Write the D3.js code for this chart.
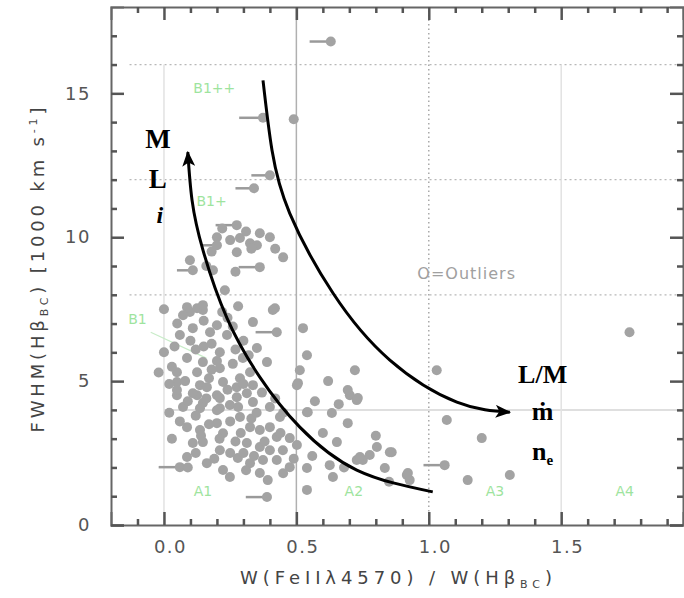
<!DOCTYPE html>
<html>
<head>
<meta charset="utf-8">
<script src="https://cdn.jsdelivr.net/npm/d3@7"></script>
<style>
  html, body { margin: 0; padding: 0; background: #fff; }
  svg { display: block; }
</style>
</head>
<body>
<svg id="chart" width="684" height="598"></svg>
<script>
// ---------------- DATA ----------------
// Ratio W(FeII 4570)/W(Hbeta BC) and FWHM(Hbeta BC) [1000 km/s]
const ratio = [
  0.275,0.362,0.2,0.287,0.325,0.2,0.351,0.275,0.362,0.098,0.109,0.185,0.23,0.419,0.087,0.147,0.411,0.336,0.426,0.525,
  0.098,0.072,0.125,0.147,0.109,0.174,0.238,0.2,0.211,0.087,0.147,0.049,0.125,0.211,0.298,0.351,0.389,0.325,0.049,0.136,
  0.223,0.287,0.336,0.049,0.125,0.2,0.275,0.336,0.136,0.211,0.54,0.506,0.049,0.109,0.162,0.211,0.275,0.313,0.502,0.702,
  0.728,0.072,0.147,0.2,0.249,0.287,0.438,0.54,0.634,0.694,0.087,0.136,0.2,0.223,0.325,0.362,0.426,0.475,0.502,0.653,
  0.109,0.147,0.211,0.313,0.362,0.4,0.449,0.728,0.804,0.86,0.751,0.087,0.06,0.162,0.223,0.279,0.325,0.374,0.426,0.475,
  0.54,0.626,0.834,0.917,0.928,0.249,0.362,0.392,0.638,0.54,0.389,0.721,0.694,0.732,0.513,0.543,0.853,0.74,0.777,0.921,
  1.03,1.068,1.2,1.06,1.147,1.306,1.758,0.49,0.63,0.374,0.4,0.34,
  0.03,0.02,0.04,0.17,0.26,0.18,0.3,0.15,0.24,0.28,0.1,0.06,0.33,0.25,0.17,0.12,0.4,0.27,0.19,0.3,0.4,0.45,
  0.22,0.31,0.25,0.33,0.18,0.42,0.4,0.16,0.27,0.45,
  0.0,0.05,0.15,0.22,0.26,0.12,0.2,0.27,0.32,0.0,-0.02,0.08,0.18,0.24,0.3,0.37,0.42,0.09,0.16,0.28,
  0.35,0.02,0.06,0.14,0.21,0.29,0.38,0.44,0.12,0.25,0.34,0.49,0.03,0.09,0.31,0.45,0.56,0.6,0.57,0.62,
  0.66,0.8,0.68,0.85
];
const fwhm = [
  10.42,10.14,10.0,9.97,9.79,9.72,9.72,9.48,8.96,9.2,8.85,8.85,8.16,7.53,7.57,7.47,7.47,7.05,6.7,6.84,
  7.4,7.29,7.53,7.64,6.84,6.7,6.6,6.94,6.0,5.8,5.66,5.31,5.31,5.45,5.8,6.15,5.66,5.31,4.97,4.86,
  4.97,5.1,4.86,4.51,4.51,4.51,4.44,4.27,4.06,4.06,5.9,4.93,4.69,4.58,4.79,4.41,4.79,4.58,4.86,4.51,
  4.34,4.1,4.24,3.99,4.17,3.75,3.75,3.92,3.89,3.54,3.4,3.3,3.54,3.19,3.4,3.3,3.06,3.02,2.78,2.88,
  2.85,2.88,2.6,2.85,2.71,2.6,2.6,2.26,2.71,2.53,2.26,2.36,2.01,2.15,1.91,2.33,2.15,2.26,2.26,2.01,
  1.98,2.08,1.98,1.74,1.56,1.67,1.81,1.56,1.67,1.22,0.97,5.38,4.69,4.41,5.38,3.92,2.53,2.36,2.43,1.81,
  5.38,3.65,3.02,2.08,1.56,1.74,6.7,14.1,16.8,14.15,12.15,11.7,
  5.5,4.9,6.2,5.1,5.6,6.3,6.4,6.2,7.2,7.6,6.4,6.6,3.7,3.6,3.5,3.8,4.1,2.9,2.3,2.5,3.4,3.9,
  10.3,10.2,9.9,9.6,9.5,9.6,10.0,9.0,8.8,9.3,
  7.5,7.0,7.1,7.4,6.9,6.1,5.7,6.1,5.9,6.0,5.3,5.0,5.4,4.7,4.9,4.6,4.4,4.3,4.4,4.1,
  3.9,3.9,3.6,3.1,3.0,3.2,2.9,3.2,2.5,2.5,2.4,2.3,3.0,2.0,1.9,1.8,2.4,3.2,4.3,5.0,
  4.2,3.1,2.0,1.5
];
// Horizontal bars (leftward extent, ratio units) on some objects: [index, length]
const barIndex  = [0, 5, 8, 10, 18, 92, 110, 123, 128, 129, 130, 131];
const barLength = [0.08, 0.06, 0.08, 0.06, 0.08, 0.08, 0.08, 0.08, 0.08, 0.09, 0.07, 0.07];

// Axis ticks
const xMajor = [0.0, 0.5, 1.0, 1.5];
const xMajorLabels = ["0.0", "0.5", "1.0", "1.5"];
const xMinor = [-0.1, 0.1, 0.2, 0.3, 0.4, 0.6, 0.7, 0.8, 0.9, 1.1, 1.2, 1.3, 1.4, 1.6, 1.7, 1.8, 1.9];
const yMajor = [0, 5, 10, 15];
const yMinor = [1, 2, 3, 4, 6, 7, 8, 9, 11, 12, 13, 14, 16, 17];

// Sector boundaries
const gridYSolid = [4];
const gridYDashed = [8, 12, 16];
const gridXSolid = [0.0, 0.5, 1.5];
const gridXDotted = [1.0];

// Sector labels
const sectorNames = ["A1", "A2", "A3", "A4", "B1", "B1+", "B1++"];
const sectorX = [0.147, 0.717, 1.25, 1.74, -0.1, 0.18, 0.19];
const sectorY = [1.0, 1.0, 1.0, 1.0, 7.0, 11.1, 15.0];

// Trend arrows (ratio, FWHM)
const arrowLeft = [[1.015,1.15],[0.728,1.91],[0.513,3.40],[0.362,5.14],[0.238,7.19],[0.147,9.56],[0.106,11.29],[0.09,12.96]];
const arrowRight = [[0.374,15.45],[0.408,13.02],[0.475,10.83],[0.638,8.06],[0.853,5.73],[1.106,4.27],[1.306,3.92]];

// ---------------- CHART ----------------
const svg = d3.select("#chart");
const x = d3.scaleLinear().domain([-0.2, 1.96]).range([111, 683]);
const y = d3.scaleLinear().domain([0, 18]).range([525, 7]);

// Grid / sector lines
const grid = svg.append("g");
grid.selectAll("line.hs").data(gridYSolid).join("line")
  .attr("x1", x(0)).attr("x2", x(1.96)).attr("y1", d => y(d)).attr("y2", d => y(d))
  .attr("stroke", "#d4d4d4").attr("stroke-width", 1.5);
grid.selectAll("line.hd").data(gridYDashed).join("line")
  .attr("x1", x(-0.13)).attr("x2", x(1.96)).attr("y1", d => y(d)).attr("y2", d => y(d))
  .attr("stroke", "#b8b8b8").attr("stroke-width", 1.2).attr("stroke-dasharray", "2,3");
grid.selectAll("line.vs").data(gridXSolid).join("line")
  .attr("x1", d => x(d)).attr("x2", d => x(d)).attr("y1", y(0)).attr("y2", d => d === 0.5 ? y(18) : y(16))
  .attr("stroke", d => d === 0.5 ? "#b0b0b0" : "#e2e2e2").attr("stroke-width", 1.5);
grid.selectAll("line.vd").data(gridXDotted).join("line")
  .attr("x1", d => x(d)).attr("x2", d => x(d)).attr("y1", y(0)).attr("y2", y(18))
  .attr("stroke", "#a8a8a8").attr("stroke-width", 1.5).attr("stroke-dasharray", "1.5,3");

// Sector labels
svg.append("g").selectAll("text").data(sectorNames).join("text")
  .attr("x", (d, i) => x(sectorX[i])).attr("y", (d, i) => y(sectorY[i]))
  .attr("text-anchor", "middle")
  .attr("font-family", "DejaVu Sans, sans-serif").attr("font-size", 14)
  .attr("fill", "#9ee49e").text(d => d);
// B1 leader line
svg.append("line")
  .attr("x1", x(-0.05)).attr("y1", y(6.7)).attr("x2", x(0.16)).attr("y2", y(5.8))
  .attr("stroke", "#c8ecc8").attr("stroke-width", 1.2);

// "O=Outliers"
svg.append("text").attr("x", x(1.143)).attr("y", y(8.55)).attr("text-anchor", "middle")
  .attr("font-family", "DejaVu Sans, sans-serif").attr("font-size", 16).attr("letter-spacing", 1)
  .attr("fill", "#a0a0a0").text("O=Outliers");

// Bars
svg.append("g").selectAll("line").data(barIndex).join("line")
  .attr("x1", (d, i) => x(ratio[d] - barLength[i])).attr("x2", d => x(ratio[d]))
  .attr("y1", d => y(fwhm[d])).attr("y2", d => y(fwhm[d]))
  .attr("stroke", "#9a9a9a").attr("stroke-width", 2.5);

// Points
svg.append("g").selectAll("circle").data(ratio).join("circle")
  .attr("cx", d => x(d)).attr("cy", (d, i) => y(fwhm[i])).attr("r", 5)
  .attr("fill", "#a3a3a3");

// Arrows
const defs = svg.append("defs");
defs.append("marker").attr("id", "ah").attr("viewBox", "0 0 12 10")
  .attr("refX", 11).attr("refY", 5).attr("markerWidth", 16).attr("markerHeight", 13)
  .attr("markerUnits", "userSpaceOnUse").attr("orient", "auto")
  .append("path").attr("d", "M0,0 L12,5 L0,10 L3,5 z").attr("fill", "#000");
const line = d3.line().x(d => x(d[0])).y(d => y(d[1])).curve(d3.curveNatural);
[arrowLeft, arrowRight].forEach(a => {
  svg.append("path").attr("d", line(a)).attr("fill", "none")
    .attr("stroke", "#000").attr("stroke-width", 3).attr("marker-end", "url(#ah)");
});

// Black annotations
const serif = "Liberation Serif, DejaVu Serif, serif";
const annL = svg.append("g").attr("font-family", serif).attr("font-weight", "bold").attr("fill", "#000").attr("text-anchor", "middle");
annL.append("text").attr("x", x(-0.023)).attr("y", y(13.1)).attr("font-size", 27).text("M");
annL.append("text").attr("x", x(-0.023)).attr("y", y(11.7)).attr("font-size", 27).text("L");
annL.append("text").attr("x", x(-0.016)).attr("y", y(10.5)).attr("font-size", 24).attr("font-style", "italic").text("i");
const annR = svg.append("g").attr("font-family", serif).attr("font-weight", "bold").attr("fill", "#000").attr("text-anchor", "middle");
annR.append("text").attr("x", x(1.43)).attr("y", y(4.95)).attr("font-size", 26).text("L/M");
annR.append("text").attr("x", x(1.43)).attr("y", y(3.65)).attr("font-size", 26).text("ṁ");
const ne = annR.append("text").attr("x", x(1.43)).attr("y", y(2.25)).attr("font-size", 26);
ne.append("tspan").text("n");
ne.append("tspan").attr("font-size", 15).attr("dy", 5).text("e");

// Axes
const tickFont = "DejaVu Sans, sans-serif";
function styleAxis(g) {
  g.select(".domain").attr("stroke", "#666").attr("stroke-width", 2);
  g.selectAll(".tick line").attr("stroke", "#555").attr("stroke-width", 2.5);
  g.selectAll(".tick text").attr("font-family", tickFont).attr("font-size", 18)
    .attr("fill", "#555").attr("letter-spacing", 1.5);
}
// bottom
svg.append("g").attr("transform", `translate(0,${y(0)})`)
  .call(d3.axisBottom(x).tickValues(xMajor).tickFormat((d, i) => xMajorLabels[i]).tickSize(-13).tickPadding(15))
  .call(styleAxis).call(g => g.selectAll(".tick text").attr("dx", 6));
svg.append("g").attr("transform", `translate(0,${y(0)})`)
  .call(d3.axisBottom(x).tickValues(xMinor).tickFormat("").tickSize(-6))
  .call(styleAxis).call(g => g.select(".domain").remove());
// top
svg.append("g").attr("transform", `translate(0,${y(18)})`)
  .call(d3.axisTop(x).tickValues(xMajor).tickFormat("").tickSize(-13))
  .call(styleAxis);
svg.append("g").attr("transform", `translate(0,${y(18)})`)
  .call(d3.axisTop(x).tickValues(xMinor).tickFormat("").tickSize(-6))
  .call(styleAxis).call(g => g.select(".domain").remove());
// left
svg.append("g").attr("transform", `translate(${x(-0.2)},0)`)
  .call(d3.axisLeft(y).tickValues(yMajor).tickSize(-13).tickPadding(20))
  .call(styleAxis);
svg.append("g").attr("transform", `translate(${x(-0.2)},0)`)
  .call(d3.axisLeft(y).tickValues(yMinor).tickFormat("").tickSize(-6))
  .call(styleAxis).call(g => g.select(".domain").remove());
// right
svg.append("g").attr("transform", `translate(${x(1.96)},0)`)
  .call(d3.axisRight(y).tickValues(yMajor).tickFormat("").tickSize(-13))
  .call(styleAxis);
svg.append("g").attr("transform", `translate(${x(1.96)},0)`)
  .call(d3.axisRight(y).tickValues(yMinor).tickFormat("").tickSize(-6))
  .call(styleAxis).call(g => g.select(".domain").remove());

// Axis titles
const xt = svg.append("text").attr("x", 396).attr("y", 584).attr("text-anchor", "middle")
  .attr("font-family", tickFont).attr("font-size", 18).attr("fill", "#444")
  .attr("textLength", 312).attr("lengthAdjust", "spacing");
xt.append("tspan").text("W(FeIIλ4570) / W(Hβ");
xt.append("tspan").attr("font-size", 11).attr("dy", 4).text("BC");
xt.append("tspan").attr("dy", -4).text(")");

const yt = svg.append("text").attr("transform", "translate(44,270) rotate(-90)").attr("text-anchor", "middle")
  .attr("font-family", tickFont).attr("font-size", 18).attr("fill", "#444")
  .attr("textLength", 325).attr("lengthAdjust", "spacing");
yt.append("tspan").text("FWHM(Hβ");
yt.append("tspan").attr("font-size", 11).attr("dy", 4).text("BC");
yt.append("tspan").attr("dy", -4).text(") [1000 km s");
yt.append("tspan").attr("font-size", 11).attr("dy", -7).text("-1");
yt.append("tspan").attr("dy", 7).text("]");
</script>
</body>
</html>
